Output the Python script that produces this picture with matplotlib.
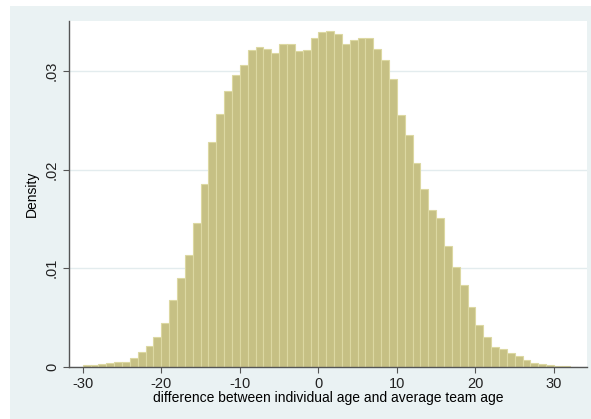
import numpy as np
import matplotlib

matplotlib.use('Agg')
import matplotlib.pyplot as plt

plt.rcParams['font.family'] = ['Liberation Sans', 'DejaVu Sans']
plt.rcParams['axes.unicode_minus'] = False

# histogram bins (width 1), left edges and densities
bin_left = list(range(-30, 33))
density = [
    0.00014, 0.00020, 0.00027, 0.00034, 0.00048, 0.00051, 0.00092, 0.00146,
    0.00214, 0.00305, 0.00440, 0.00677, 0.00897, 0.01134, 0.01462, 0.01855,
    0.02278, 0.02565, 0.02792, 0.02961, 0.03063, 0.03208, 0.03239, 0.03218,
    0.03182, 0.03276, 0.03276, 0.03198, 0.03215, 0.03334, 0.03395, 0.03401,
    0.03378, 0.03276, 0.03317, 0.03334, 0.03334, 0.03222, 0.03107, 0.02918,
    0.02555, 0.02352, 0.02065, 0.01801, 0.01591, 0.01506, 0.01225, 0.01009,
    0.00829, 0.00609, 0.00423, 0.00298, 0.00203, 0.00177, 0.00136, 0.00109,
    0.00068, 0.00041, 0.00024, 0.00014, 0.00008, 0.00004, 0.00002,
]
bin_width = 1.0
xticks = [-30, -20, -10, 0, 10, 20, 30]
yticks = [0, 0.01, 0.02, 0.03]
ytick_labels = ['0', '.01', '.02', '.03']

fig = plt.figure(figsize=(5.91, 4.19), dpi=100)
fig.patch.set_facecolor('white')
# stata-like outer graph region
fig.patches.append(plt.Rectangle((10 / 591, 0), 1, 1 - 6 / 419,
                                 transform=fig.transFigure,
                                 facecolor='#EAF2F3', edgecolor='none', zorder=-5))

ax = fig.add_axes([0.1173, 0.1248, 0.876, 0.8258])
ax.set_facecolor('white')

ax.bar(bin_left, density, width=bin_width, align='edge',
       color='#C6C084', edgecolor='#DCD8A2', linewidth=0.8, zorder=2)

ax.set_xlim(-31.7, 34.2)
ax.set_ylim(0, 0.0351)
ax.set_xticks(xticks)
ax.set_yticks(yticks)
ax.set_yticklabels(ytick_labels, rotation=90, va='center')
ax.grid(axis='y', color='#E3ECEE', linewidth=1.0, zorder=1)

for s in ['top', 'right']:
    ax.spines[s].set_visible(False)
for s in ['left', 'bottom']:
    ax.spines[s].set_color('#555555')
    ax.spines[s].set_linewidth(1.0)
ax.tick_params(colors='#555555', labelcolor='#222222', labelsize=10.5, length=4)

ax.set_xlabel('difference between individual age and average team age',
              fontsize=10, labelpad=0)
ax.set_ylabel('Density', fontsize=10, labelpad=4)

plt.savefig('out.png', dpi=100)
